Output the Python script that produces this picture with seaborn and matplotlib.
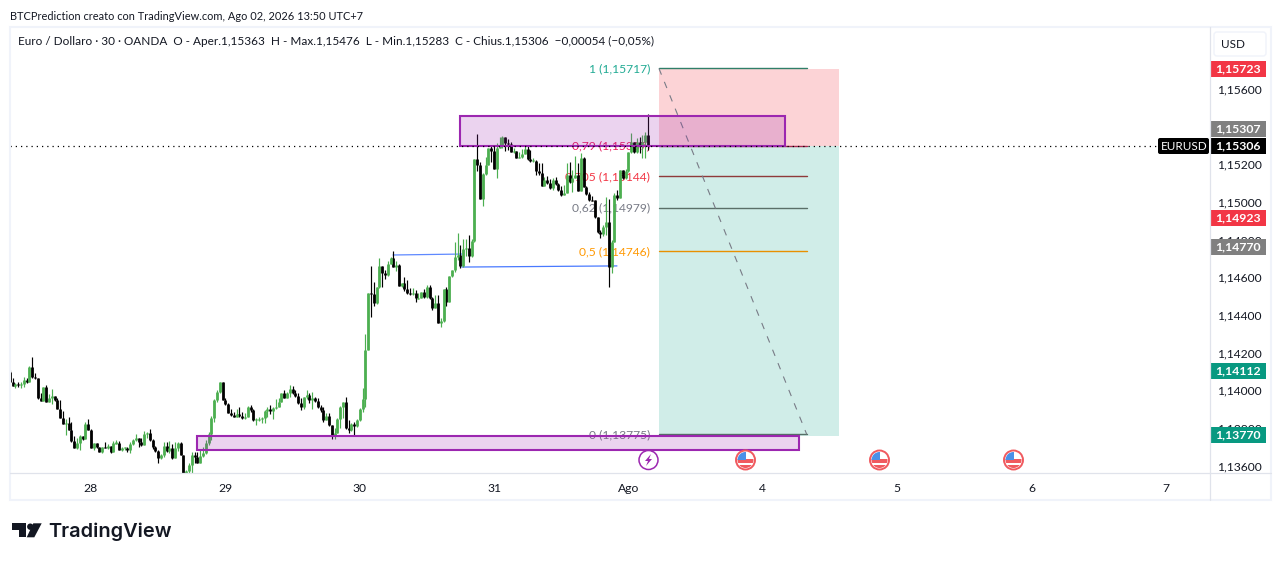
import numpy as np
import pandas as pd
import matplotlib
matplotlib.use("Agg")
import matplotlib.pyplot as plt
from matplotlib.patches import Rectangle, Circle, Polygon, FancyBboxPatch
from matplotlib.transforms import ScaledTranslation
import seaborn as sns

# EURUSD 30 min candles, prices in 1e-5 units
closes = [
    114055,114034,114041,114037,114041,114064,114055,114135,114081,114073,
    113966,113954,114028,113949,113970,113979,113958,113910,113860,113830,
    113834,113798,113742,113705,113728,113767,113749,113830,113798,113701,
    113728,113706,113683,113706,113705,113715,113683,113728,113731,113693,
    113702,113705,113693,113723,113746,113755,113737,113719,113778,113781,
    113746,113710,113689,113648,113666,113714,113689,113705,113648,113705,
    113728,113666,113555,113581,113613,113663,113657,113625,113661,113675,
    113728,113776,113861,113958,114002,114052,113958,113935,113891,113878,
    113869,113882,113873,113864,113868,113922,113905,113852,113855,113857,
    113860,113901,113908,113901,113917,113922,113945,113993,113970,113993,
    114016,113997,113979,113940,113922,113972,113984,113958,113967,113952,
    113919,113905,113852,113873,113823,113772,113784,113857,113922,113945,
    113807,113799,113830,113822,113852,113908,113961,114223,114523,114520,
    114474,114555,114668,114633,114622,114679,114709,114665,114672,114562,
    114576,114548,114527,114521,114527,114497,114498,114529,114505,114555,
    114497,114447,114470,114367,114376,114544,114479,114615,114647,114718,
    114725,114668,114757,114764,114721,114803,115236,115204,115026,115155,
    115204,115293,115279,115183,115293,115310,115352,115324,115317,115272,
    115279,115244,115249,115265,115288,115235,115226,115228,115175,115161,
    115095,115126,115111,115081,115126,115104,115072,115044,115058,115152,
    115113,115134,115152,115067,115240,115090,115051,115019,115018,114927,
    114848,114839,114878,114904,114662,114795,115046,115028,115179,115134,
    115173,115272,115329,115276,115325,115311,115329,115363,115306]
highs = [
    114117,114073,114046,114055,114051,114078,114073,114140,114184,114099,
    114073,113997,114028,114037,113988,114016,113979,113966,113958,113899,
    113855,113869,113839,113767,113758,113772,113767,113843,113857,113802,
    113728,113728,113706,113706,113737,113726,113710,113742,113745,113739,
    113709,113710,113709,113732,113751,113778,113758,113758,113792,113786,
    113804,113749,113714,113693,113670,113737,113735,113739,113724,113732,
    113732,113733,113666,113587,113622,113684,113684,113684,113693,113710,
    113746,113786,113870,113963,114011,114052,114052,113967,113940,113908,
    113896,113908,113919,113896,113887,113926,113931,113908,113860,113869,
    113869,113905,113919,113931,113922,113961,113967,113997,114011,114002,
    114037,114032,114011,113993,113967,113975,114011,113993,114002,113975,
    113967,113931,113919,113887,113887,113825,113807,113864,113926,113949,
    113972,113852,113834,113843,113857,113914,114020,114307,114527,114668,
    114582,114559,114709,114651,114647,114697,114718,114748,114697,114677,
    114580,114612,114594,114550,114550,114541,114527,114532,114544,114567,
    114567,114505,114514,114514,114390,114544,114555,114615,114647,114797,
    114842,114780,114812,114812,114833,114810,115236,115367,115222,115160,
    115245,115293,115310,115310,115319,115351,115356,115351,115340,115329,
    115294,115281,115276,115288,115311,115308,115285,115240,115232,115214,
    115214,115143,115147,115130,115134,115143,115110,115094,115099,115214,
    115223,115180,115253,115214,115267,115245,115095,115060,115040,115020,
    114930,114860,114884,115033,115023,114807,115055,115072,115179,115180,
    115181,115272,115373,115329,115347,115355,115364,115382,115476]
lows = [
    114055,114034,114020,114028,114023,114028,114046,114055,114074,114067,
    113963,113954,113954,113949,113949,113936,113954,113910,113860,113830,
    113772,113798,113736,113705,113698,113692,113745,113749,113798,113701,
    113692,113705,113683,113678,113703,113699,113678,113683,113722,113693,
    113689,113693,113682,113675,113719,113742,113710,113714,113719,113755,
    113742,113700,113682,113625,113643,113654,113684,113678,113643,113647,
    113689,113666,113540,113540,113540,113569,113622,113622,113622,113657,
    113671,113719,113746,113843,113949,113993,113958,113931,113891,113875,
    113868,113866,113869,113857,113857,113899,113896,113848,113825,113846,
    113834,113834,113869,113883,113857,113908,113919,113945,113970,113967,
    113972,113990,113975,113937,113905,113908,113961,113940,113908,113949,
    113914,113896,113843,113852,113820,113751,113751,113781,113807,113864,
    113804,113781,113795,113772,113816,113848,113896,113920,114223,114399,
    114458,114467,114553,114555,114599,114615,114679,114661,114640,114562,
    114555,114537,114520,114514,114514,114479,114493,114497,114497,114497,
    114495,114435,114447,114364,114346,114373,114458,114479,114612,114638,
    114700,114656,114665,114721,114691,114718,114797,115174,115026,114987,
    115151,115204,115222,115183,115137,115293,115293,115280,115284,115271,
    115267,115240,115240,115240,115262,115232,115223,115223,115152,115152,
    115094,115094,115104,115078,115072,115099,115069,115041,115046,115055,
    115108,115063,115134,115064,115072,115088,115048,115015,115015,114925,
    114845,114816,114828,114834,114556,114630,114794,115020,115027,115128,
    115130,115170,115267,115270,115270,115270,115240,115240,115283]
first_open = 114106

day_labels = ["28", "29", "30", "31", "Ago", "4", "5", "6", "7"]
price_ticks = [1.136, 1.138, 1.140, 1.142, 1.144, 1.146, 1.148, 1.150, 1.152, 1.154, 1.156]

fib_labels = ["1 (1,15717)", "0,79 (1,15307)", "0,705 (1,15144)", "0,62 (1,14979)", "0,5 (1,14746)", "0 (1,13775)"]
fib_prices = [1.15717, 1.15307, 1.15144, 1.14979, 1.14746, 1.13775]
fib_text_colors = ["#22ab94", "#e91e63", "#f23645", "#787b86", "#ff9800", "#787b86"]
fib_line_colors = ["#2f7f68", "#a82a52", "#8f3a3a", "#5a6f68", "#e89000", "#556f66"]

tag_labels = ["1,15723", "1,15307", "1,15306", "1,14923", "1,14770", "1,14112", "1,13770"]
tag_y = [69, 129, 146, 218, 247, 371, 435]
tag_colors = ["#f23645", "#808080", "#000000", "#f23645", "#808080", "#089981", "#089981"]

last_price = 1.15306

sns.set_theme(style="white", rc={"axes.facecolor": "white", "figure.facecolor": "white"})
plt.rcParams["font.family"] = ["Lato", "DejaVu Sans"]

W, H = 1281, 561
fig = plt.figure(figsize=(W / 100, H / 100), dpi=100)
ax = fig.add_axes([10 / W, 1 - 473 / H, (1209 - 10) / W, (473 - 27) / H])

# candles
c = np.array(closes) / 1e5
o = np.r_[first_open / 1e5, c[:-1]]
h = np.array(highs) / 1e5
l = np.array(lows) / 1e5
bars = np.arange(len(c)) - 29
side = np.where(c >= o, "up", "down")
top = np.maximum(np.maximum(o, c), h)
bot = np.minimum(np.minimum(o, c), l)
body_top = np.maximum(np.maximum(o, c), (o + c) / 2 + 0.00003)
body_bot = np.minimum(np.minimum(o, c), (o + c) / 2 - 0.00003)

wicks = pd.DataFrame({"bar": np.r_[bars, bars], "price": np.r_[top, bot], "side": np.r_[side, side]})
bodies = pd.DataFrame({"bar": np.r_[bars, bars], "price": np.r_[body_top, body_bot], "side": np.r_[side, side]})
pal = {"up": "#4caf50", "down": "#000000"}
for frame, lw in [(wicks, 0.85), (bodies, 2.0)]:
    sns.lineplot(data=frame, x="bar", y="price", hue="side", units="bar", estimator=None,
                 palette=pal, linewidth=lw, legend=False, ax=ax, zorder=4,
                 solid_capstyle="butt")

ax.set_xlim(-28.93, 399.4)
ax.set_ylim(1.13570, 1.15937)
ax.set_xlabel("")
ax.set_ylabel("")

# trade box
ax.add_patch(Rectangle((202.9, last_price), 64.3, 1.15715 - last_price, fc="#f7525f", alpha=0.25, ec="none", zorder=1))
ax.add_patch(Rectangle((202.9, 1.13766), 64.3, last_price - 1.13766, fc="#22ab94", alpha=0.21, ec="none", zorder=1))

# fib levels
for lab, p, tc, lc in zip(fib_labels, fib_prices, fib_text_colors, fib_line_colors):
    ax.plot([202.9, 255.7], [p, p], color=lc, lw=1.0, zorder=2, snap=True)
    ax.text(199.8, p, lab, color=tc, ha="right", va="center", fontsize=8.7, zorder=3)
ax.plot([202.9, 255.7], [1.15717, 1.13775], color="#787b86", lw=0.8, dashes=(6, 7), zorder=2)

# blue lines
ax.plot([107.9, 132.5], [1.14727, 1.14732], color="#2962ff", lw=0.9, alpha=0.75, zorder=3)
ax.plot([132.5, 187.9], [1.14663, 1.14669], color="#2962ff", lw=0.9, alpha=0.85, zorder=3)

# purple zones
for x0, x1, p0, p1 in [(131.8, 247.9, 1.15308, 1.15467), (37.9, 252.9, 1.13690, 1.13768)]:
    ax.add_patch(Rectangle((x0, p0), x1 - x0, p1 - p0, fc="#9c27b0", alpha=0.2, ec="none", zorder=5))
    ax.add_patch(Rectangle((x0, p0), x1 - x0, p1 - p0, fc="none", ec="#9c27b0", lw=1.5, zorder=5))

ax.axhline(last_price, color="#000000", lw=0.9, dashes=(1, 3.2), zorder=6)

# axes, ticks
ax.yaxis.tick_right()
ax.set_yticks(price_ticks)
ax.set_yticklabels([f"{p:.5f}".replace(".", ",") for p in price_ticks], fontsize=8.7, color="#131722")
ax.set_xticks(np.arange(len(day_labels)) * 48)
ax.set_xticklabels(day_labels, fontsize=8.7, color="#131722")
ax.tick_params(axis="y", length=0, pad=6.5)
ax.tick_params(axis="x", length=0, pad=7)
up_shift = ScaledTranslation(-1 / 100, 1.7 / 100, fig.dpi_scale_trans)
for lab in ax.get_yticklabels():
    lab.set_transform(lab.get_transform() + up_shift)
for s in ax.spines.values():
    s.set_visible(False)

# overlay for the TradingView chrome, in pixels
ov = fig.add_axes([0, 0, 1, 1], zorder=10)
ov.set_xlim(0, W)
ov.set_ylim(H, 0)
ov.axis("off")
ov.patch.set_alpha(0)

ov.add_patch(Rectangle((10, 27), 1261, 473, fc="none", ec="#f0f3fa", lw=1.5))
ov.plot([10, 1271], [473, 473], color="#e0e3eb", lw=0.9)
ov.plot([1209.5, 1209.5], [27, 500], color="#e0e3eb", lw=0.9)

ov.text(10, 16, "BTCPrediction creato con TradingView.com, Ago 02, 2026 13:50 UTC+7",
        fontsize=7.95, color="#131722", va="center", ha="left")
ov.text(18, 41.5, "Euro / Dollaro · 30 · OANDA  O - Aper.1,15363  H - Max.1,15476  L - Min.1,15283  "
        "C - Chius.1,15306  −0,00054 (−0,05%)", fontsize=8.45, color="#131722", va="center", ha="left")

ov.add_patch(FancyBboxPatch((1214, 32), 52, 24, boxstyle="round,pad=0,rounding_size=3", fc="white", ec="#f0f3fa", lw=1))
ov.text(1233, 44, "USD", fontsize=8.4, color="#131722", ha="center", va="center")

# price tags
for lab, y, col in zip(tag_labels, tag_y, tag_colors):
    ov.add_patch(Rectangle((1210, y - 8), 56, 16, fc=col, ec="none"))
    ov.text(1238, y - 0.5, lab, color="white", fontsize=8.8, fontweight="bold", ha="center", va="center")
ov.add_patch(FancyBboxPatch((1158, 138), 51, 16, boxstyle="round,pad=0,rounding_size=2", fc="#000000", ec="none"))
ov.text(1184, 146, "EURUSD", color="white", fontsize=8.4, ha="center", va="center")

# event icons
ov.add_patch(Circle((648.5, 460), 9.5, fc="white", ec="#9c27b0", lw=1.1))
ov.add_patch(Polygon([(651, 454), (645, 461), (648, 461), (646, 466), (652, 459), (649, 459)], fc="#9c27b0", ec="none"))
for cx in [745.5, 879.5, 1013.5]:
    ring = Circle((cx, 460), 9.5, fc="white", ec="#f05a5f", lw=1.4)
    ov.add_patch(ring)
    clip = Circle((cx, 460), 8, transform=ov.transData)
    for yy in [459, 465]:
        r = Rectangle((cx - 9, yy), 18, 3.5, fc="#f05a5f", ec="none")
        ov.add_patch(r)
        r.set_clip_path(clip)
    r = Rectangle((cx - 9, 451), 9.5, 9, fc="#4a90e8", ec="none")
    ov.add_patch(r)
    r.set_clip_path(clip)

# logo
ov.add_patch(Polygon([(12, 523.3), (26, 523.3), (26, 537.3), (19, 537.3), (19, 530), (12, 530)], fc="#131722", ec="none"))
ov.add_patch(Circle((30.3, 526.7), 3.2, fc="#131722", ec="none"))
ov.add_patch(Polygon([(33.3, 523.3), (41.7, 523.3), (34.3, 537.3), (26.7, 537.3)], fc="#131722", ec="none"))
ov.text(48, 532, "TradingView", fontsize=14.4, fontweight="semibold", family=["Inter", "DejaVu Sans"], color="#131722", va="center", ha="left")

fig.savefig("out.png", dpi=100)
